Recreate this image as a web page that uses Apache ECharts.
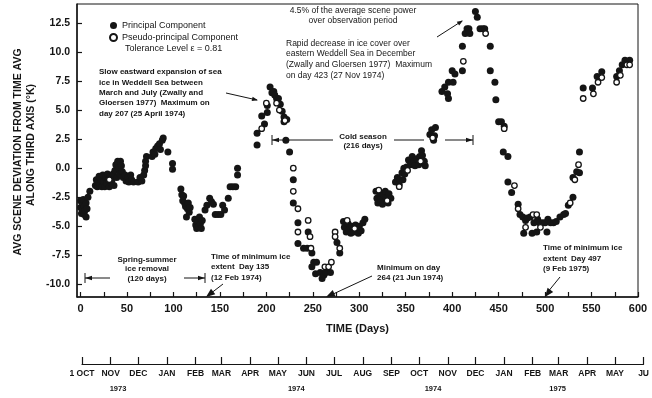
<!DOCTYPE html>
<html>
<head>
<meta charset="utf-8">
<script src="https://cdn.jsdelivr.net/npm/echarts@6/dist/echarts.min.js"></script>
<style>
  html, body { margin: 0; padding: 0; background: #fff; }
  #chart { width: 652px; height: 398px; }
</style>
</head>
<body>
<div id="chart"></div>
<script>
// [day, deviation (K)]
const principal = [
  [0,-2.8],[0,-3.4],[1,-3.9],[2,-3.0],[2,-3.6],[3,-2.7],[4,-3.3],[4,-4.0],[5,-3.6],[6,-3.0],[6,-4.2],[7,-3.5],[8,-2.5],[10,-2.0],
  [16,-1.5],[17,-1.0],[18,-1.6],[19,-1.2],[20,-0.7],[21,-1.5],[22,-1.0],[23,-1.6],[24,-0.6],[25,-1.2],[26,-1.6],[27,-0.8],
  [28,-1.3],[29,-0.5],[30,-1.0],[31,-1.6],[32,-0.7],[33,-1.3],[34,-1.0],[35,-0.5],[36,-1.5],[37,-0.2],[38,0.3],[39,-0.8],
  [40,0.6],[41,0.0],[42,-0.5],[43,0.6],[44,0.2],[45,-0.3],[46,-0.8],
  [48,-0.6],[49,-1.1],[51,-0.8],[52,-1.2],[54,-0.6],[55,-1.0],[57,-1.2],
  [62,-1.2],[64,-0.8],[66,-1.1],[68,-0.6],[69,-0.2],[70,0.2],[70,0.6],[71,1.0],
  [77,1.0],[78,1.4],[80,1.2],[81,1.7],[83,1.9],[85,2.1],[86,1.6],[88,2.4],[89,2.6],
  [94,1.4],[99,0.4],[99,-0.1],
  [108,-1.8],[109,-2.3],[110,-2.8],[111,-2.4],[112,-3.0],[113,-3.3],[114,-4.2],[115,-3.5],[116,-3.0],[117,-3.8],[118,-3.4],
  [123,-4.4],[124,-4.9],[125,-5.2],[126,-4.6],[127,-5.0],[128,-4.2],[129,-4.8],[130,-5.2],[131,-4.5],
  [134,-3.6],[136,-3.2],[139,-2.6],[141,-2.9],[143,-3.1],[145,-4.0],[148,-4.0],[151,-4.0],[153,-3.2],[155,-3.6],
  [159,-2.6],[161,-1.6],[164,-1.6],[167,-1.6],[169,0.0],[169,-0.6],
  [190,3.0],[190,2.0],[195,4.5],[198,3.8],[201,4.8],[201,5.4],[204,7.0],[206,6.5],[208,6.6],[209,6.3],[211,6.0],
  [213,6.0],[215,5.5],[217,4.9],[219,4.4],[219,4.0],[222,4.2],[221,2.4],[225,1.4],
  [229,-1.0],[229,-3.0],[234,-4.7],[245,-5.5],[234,-6.5],[240,-6.9],[244,-6.9],[249,-7.3],[251,-8.1],[254,-8.1],
  [249,-8.5],[253,-9.1],[258,-9.0],[260,-9.5],[262,-9.2],[264,-9.0],[269,-9.0],[276,-6.4],[279,-7.3],
  [283,-4.6],[284,-5.1],[286,-5.5],[288,-4.8],[289,-5.3],[291,-5.6],[292,-5.0],[294,-5.5],[296,-4.9],[297,-5.3],
  [299,-5.6],[300,-5.0],[302,-5.4],[304,-4.7],[306,-4.4],
  [318,-2.0],[319,-2.6],[320,-3.0],[322,-2.2],[323,-2.7],[325,-3.1],[326,-2.3],[328,-2.0],[329,-2.6],[331,-3.0],[332,-2.2],[334,-2.6],
  [339,-1.2],[341,-0.8],[343,-1.4],[344,-1.0],[346,-0.4],[347,-1.0],[348,0.0],[349,-0.5],[351,0.1],[353,0.7],[355,0.3],
  [357,1.0],[359,0.6],[360,0.2],[362,0.8],[364,0.3],[365,1.0],[367,1.5],[368,1.1],[370,0.6],[371,0.2],
  [376,2.9],[378,3.3],[380,2.4],[382,3.5],[381,2.8],
  [389,6.6],[392,7.0],[395,6.4],[396,6.0],[396,7.4],[400,8.4],[401,7.4],[403,8.1],[411,8.4],[411,10.5],[414,11.6],
  [416,12.0],[418,12.0],[419,11.6],[425,13.5],[427,13.0],[430,12.0],[433,12.0],[435,12.0],[441,10.5],[441,8.4],[446,7.4],[447,5.9],
  [450,4.0],[453,4.0],[456,3.6],[455,1.4],[460,1.0],[460,-1.2],[464,-2.1],[471,-3.1],[473,-4.0],[476,-4.2],[477,-5.6],
  [479,-4.5],[481,-4.3],[484,-4.2],[486,-5.6],[488,-4.7],[491,-5.5],[492,-4.4],[494,-4.7],[497,-4.7],[500,-4.7],
  [502,-5.5],[503,-4.4],[506,-4.7],[509,-4.7],[512,-4.6],[516,-4.2],[520,-4.0],[522,-3.9],[525,-3.2],[530,-2.5],
  [530,-0.8],[534,-0.3],[537,-0.4],[537,1.4],
  [541,6.9],[551,6.9],[556,7.9],[561,8.3],[577,7.9],[580,8.4],[583,8.9],[586,9.3],[591,9.3]
];
const pseudo = [
  [31,-1.0],
  [195,3.4],[200,5.6],[211,5.6],[214,5.0],[220,4.1],
  [229,0.0],[229,-2.0],[234,-3.5],[245,-4.5],[234,-5.5],[247,-5.9],[248,-6.9],[263,-8.5],[267,-8.5],[270,-8.1],
  [274,-5.5],[274,-5.9],[279,-6.9],
  [287,-4.5],[295,-5.2],[321,-1.9],[330,-2.8],
  [343,-1.6],[352,-0.2],[366,0.6],[379,2.6],
  [412,9.2],[436,11.6],
  [456,3.4],[467,-1.5],[471,-3.5],[479,-5.1],[487,-4.0],[491,-4.0],[495,-5.1],[527,-3.0],[532,-1.0],[536,0.3],
  [541,6.0],[552,6.4],[557,7.4],[561,7.8],[577,7.4],[581,8.0],[588,8.9],[591,8.9]
];

const dayTicks = [0,25,50,75,100,125,150,175,200,225,250,275,300,325,350,375,400,425,450,475,500,525,550,575,600];
const dayLabels = [0,50,100,150,200,250,300,350,400,450,500,550,600];
const devLabels = [-10,-7.5,-5,-2.5,0,2.5,5,7.5,10,12.5];

// calendar strip under the plot (days since 1 Oct 1973)
const monthDays = [0,31,61,92,123,151,182,212,243,273,304,335,365,396,426,457,488,516,547,577,608];
const monthNames = ['1 OCT','NOV','DEC','JAN','FEB','MAR','APR','MAY','JUN','JUL','AUG','SEP','OCT','NOV','DEC','JAN','FEB','MAR','APR','MAY','JU'];
const yearDays = [39,232,380,515];
const yearNames = ['1973','1974','1974','1975'];

const ink = '#151515';
const font = 'Liberation Sans';

function head(x1, y1, x2, y2, len, w) {
  const a = Math.atan2(y2 - y1, x2 - x1);
  const c = Math.cos(a), s = Math.sin(a);
  return {
    type: 'polygon',
    shape: { points: [[x2, y2], [x2 - len * c + w * s, y2 - len * s - w * c], [x2 - len * c - w * s, y2 - len * s + w * c]] },
    style: { fill: ink }
  };
}
function seg(x1, y1, x2, y2) {
  return { type: 'line', shape: { x1: x1, y1: y1, x2: x2, y2: y2 }, style: { stroke: ink, lineWidth: 1 } };
}
function note(x, y, text, opts) {
  opts = opts || {};
  return {
    type: 'text', x: x, y: y,
    style: {
      text: text, fill: ink, font: (opts.weight || 'bold') + ' ' + (opts.size || 8) + 'px "' + font + '"',
      align: opts.align || 'left', verticalAlign: 'top', lineHeight: opts.lh || 10
    }
  };
}

var myChart = echarts.init(document.getElementById('chart'));
var option = {
  animation: false,
  backgroundColor: '#fff',
  textStyle: { fontFamily: font, color: ink },
  grid: [
    { left: 77, top: 4, width: 561, height: 293, show: true, borderColor: ink, borderWidth: 1 },
    { left: 82, top: 363, width: 564, height: 1 }
  ],
  legend: {
    orient: 'vertical', left: 109, top: 21, itemWidth: 7, itemHeight: 7, itemGap: 3, padding: 0,
    textStyle: { fontSize: 9, color: ink, fontFamily: font },
    data: [{ name: 'Principal Component', icon: 'circle' }, { name: 'Pseudo-principal Component', icon: 'circle' }]
  },
  xAxis: [
    {
      type: 'value', gridIndex: 0, position: 'bottom', min: -3.8, max: 600,
      name: 'TIME (Days)', nameLocation: 'middle', nameGap: 26,
      nameTextStyle: { fontSize: 11, fontWeight: 'bold', color: ink },
      axisLine: { onZero: false, lineStyle: { color: ink, width: 1.5 } },
      axisTick: { inside: true, length: 5, customValues: dayTicks, lineStyle: { color: ink, width: 1.2 } },
      axisLabel: { customValues: dayLabels, fontSize: 11, fontWeight: 'bold', color: ink, margin: 6 },
      splitLine: { show: false }
    },
    {
      type: 'value', gridIndex: 1, position: 'bottom', min: 0, max: 608,
      axisLine: { onZero: false, lineStyle: { color: ink, width: 1.2 } },
      axisTick: { inside: true, length: 7, customValues: monthDays, lineStyle: { color: ink, width: 1.2 } },
      axisLabel: {
        customValues: monthDays, fontSize: 8.5, fontWeight: 'bold', color: ink, margin: 5,
        formatter: function (v) { return monthNames[monthDays.indexOf(v)]; }
      },
      splitLine: { show: false }
    },
    {
      type: 'value', gridIndex: 1, position: 'bottom', offset: 0, min: 0, max: 608,
      axisLine: { show: false, onZero: false }, axisTick: { show: false },
      axisLabel: {
        customValues: yearDays, fontSize: 7.5, fontWeight: 'bold', color: ink, margin: 21,
        formatter: function (v) { return yearNames[yearDays.indexOf(v)]; }
      },
      splitLine: { show: false }
    }
  ],
  yAxis: [
    {
      type: 'value', gridIndex: 0, min: -11.1, max: 14.14,
      axisLine: { show: true, onZero: false, lineStyle: { color: ink, width: 1.5 } },
      axisTick: { show: true, inside: true, length: 5, customValues: devLabels, lineStyle: { color: ink, width: 1.2 } },
      axisLabel: {
        customValues: devLabels, fontSize: 10.5, fontWeight: 'bold', color: ink, margin: 7,
        formatter: function (v) { return v.toFixed(1); }
      },
      splitLine: { show: false }
    },
    { type: 'value', gridIndex: 1, show: false, min: 0, max: 1 }
  ],
  series: [
    {
      name: 'Principal Component', type: 'scatter', xAxisIndex: 0, yAxisIndex: 0,
      symbol: 'circle', symbolSize: 7, data: principal,
      itemStyle: { color: ink, opacity: 1 }
    },
    {
      name: 'Pseudo-principal Component', type: 'scatter', xAxisIndex: 0, yAxisIndex: 0,
      symbol: 'circle', symbolSize: 5.5, data: pseudo,
      itemStyle: { color: '#fff', borderColor: ink, borderWidth: 1.3, opacity: 1 }
    }
  ],
  graphic: [
    // y axis title, two lines
    { type: 'text', x: 18, y: 152, rotation: Math.PI / 2,
      style: { text: 'AVG SCENE DEVIATION FROM TIME AVG', fill: ink, font: 'bold 10.5px "' + font + '"', align: 'center', verticalAlign: 'middle' } },
    { type: 'text', x: 31, y: 145, rotation: Math.PI / 2,
      style: { text: 'ALONG THIRD AXIS (°K)', fill: ink, font: 'bold 10.5px "' + font + '"', align: 'center', verticalAlign: 'middle' } },

    note(125, 44, 'Tolerance Level ε = 0.81', { weight: 'normal', size: 9 }),

    note(99, 67, 'Slow eastward expansion of sea\nice in Weddell Sea between\nMarch and July (Zwally and\nGloersen 1977)  Maximum on\nday 207 (25 April 1974)', { lh: 10.3 }),
    seg(226, 93, 257, 100), head(226, 93, 258, 100.2, 6, 2.2),

    note(353, 6, '4.5% of the average scene power\nover observation period', { weight: 'normal', size: 8.5, align: 'center', lh: 10 }),
    seg(437, 37, 462, 21), head(437, 37, 463, 20.4, 6, 2.2),

    note(286, 38, 'Rapid decrease in ice cover over\neastern Weddell Sea in December\n(Zwally and Gloersen 1977)  Maximum\non day 423 (27 Nov 1974)', { weight: 'normal', size: 8.5, lh: 10.7 }),

    note(363, 132, 'Cold season\n(216 days)', { align: 'center', lh: 9.5 }),
    seg(272, 135, 272, 145), seg(272, 140, 333, 140), head(285, 140, 272, 140, 7, 2.2),
    seg(394, 140, 424, 140),
    seg(445, 140, 473, 140), head(445, 140, 473, 140, 7, 2.2), seg(473, 135, 473, 145),

    note(147, 255, 'Spring-summer\nice removal\n(120 days)', { align: 'center', lh: 9.5 }),
    seg(85, 273, 85, 283), seg(85, 278, 110, 278), head(98, 278, 85, 278, 7, 2.2),
    seg(184, 278, 205, 278), head(184, 278, 205, 278, 7, 2.2), seg(205, 273, 205, 283),

    note(211, 251, 'Time of minimum ice\nextent  Day 135\n(12 Feb 1974)', { lh: 10.8 }),
    seg(223, 284, 210, 294), head(223, 284, 206, 297, 9, 3.5),

    note(377, 263, 'Minimum on day\n264 (21 Jun 1974)', { lh: 10 }),
    seg(372, 276, 331, 295), head(372, 276, 326, 297, 9, 3.5),

    note(543, 243, 'Time of minimum ice\nextent  Day 497\n(9 Feb 1975)', { lh: 10.5 }),
    seg(560, 277, 547, 293), head(560, 277, 545, 297, 9, 3.5)
  ]
};

option && myChart.setOption(option);
</script>
</body>
</html>
